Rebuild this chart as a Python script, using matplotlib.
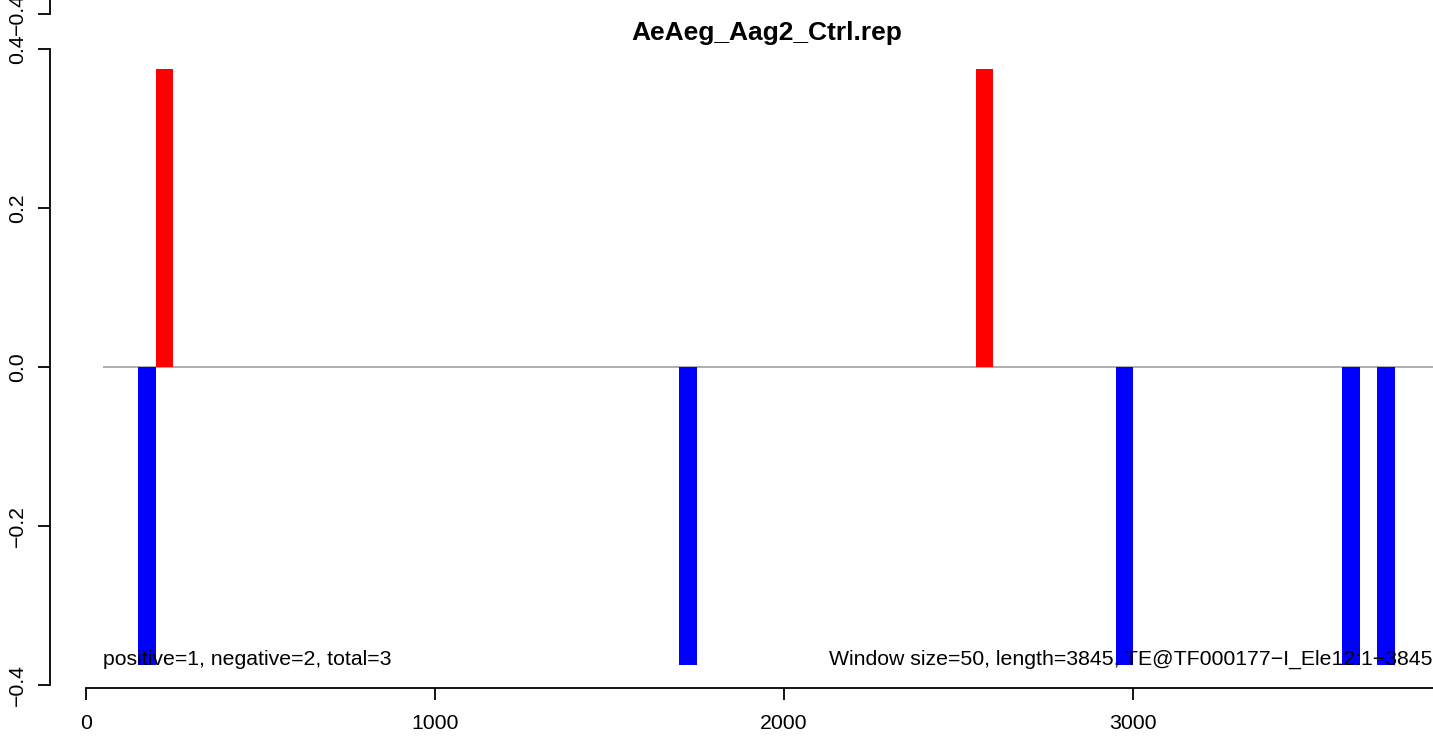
import matplotlib
matplotlib.use("Agg")

import matplotlib.pyplot as plt

# window starts (window size 50) and signal values
pos_starts = [200, 2550]
pos_values = [0.375, 0.375]
neg_starts = [150, 1700, 2950, 3600, 3700]
neg_values = [-0.375, -0.375, -0.375, -0.375, -0.375]

window = 50
seq_len = 3845
x_ticks = [0, 1000, 2000, 3000]
y_ticks = [-0.4, -0.2, 0.0, 0.2, 0.4]

title = "AeAeg_Aag2_Ctrl.rep"
left_note = "positive=1, negative=2, total=3"
right_note = "Window size=50, length=3845, TE@TF000177\u2212I_Ele12:1\u22123845"

plt.rcParams["font.family"] = ["Liberation Sans", "DejaVu Sans"]
plt.rcParams["axes.unicode_minus"] = True

W, H = 1433, 737
fig = plt.figure(figsize=(W / 100, H / 100), dpi=100)

# main panel, placed in pixels
left_px, right_px, bottom_px, top_px = 50, 1433, 688, 46
ax = fig.add_axes([left_px / W, (H - bottom_px) / H,
                   (right_px - left_px) / W, (bottom_px - top_px) / H])
ax.set_xlim(-103, 3859.6)
ax.set_ylim(-0.404, 0.4035)

ax.bar(pos_starts, pos_values, width=window, align="edge", color="red", zorder=2)
ax.bar(neg_starts, neg_values, width=window, align="edge", color="blue", zorder=2)
ax.hlines(0, window, 3900, color="#999999", linewidth=1.1, zorder=1)

ax.text(window, -0.375, left_note, ha="left", va="baseline", fontsize=15.3, zorder=3)
ax.text(3857, -0.375, right_note, ha="right", va="baseline", fontsize=15.3, zorder=3)

# title is centred on the full plot region, which runs past the right edge
fig.text(767 / W, (H - 33) / H, title, ha="center", va="center",
         fontsize=19, fontweight="bold")

for s in ["top", "right"]:
    ax.spines[s].set_visible(False)
ax.spines["left"].set_bounds(-0.4, 0.4)
ax.spines["bottom"].set_bounds(0, 3900)
for s in ["left", "bottom"]:
    ax.spines[s].set_linewidth(1.3)


def fmt(v):
    return f"{v:.1f}".replace("-", "\u2212")


ax.set_xticks(x_ticks)
ax.set_yticks(y_ticks)
ax.set_yticklabels([fmt(v) for v in y_ticks], rotation=90, va="center")
ax.tick_params(axis="both", length=8.6, width=1.3, labelsize=15.3)
ax.tick_params(axis="y", pad=8)
ax.tick_params(axis="x", pad=10)

# remnant of the panel above (its bottom axis tick peeking in)
ax2 = fig.add_axes([left_px / W, (H - 17) / H,
                    (right_px - left_px) / W, (bottom_px - top_px) / H])
ax2.set_xlim(-103, 3859.6)
ax2.set_ylim(-0.404, 0.4035)
ax2.patch.set_visible(False)
for s in ["top", "right", "bottom"]:
    ax2.spines[s].set_visible(False)
ax2.spines["left"].set_bounds(-0.4, 0.4)
ax2.spines["left"].set_linewidth(1.3)
ax2.set_xticks([])
ax2.set_yticks([-0.4])
ax2.set_yticklabels([fmt(-0.4)], rotation=90, va="center")
ax2.tick_params(axis="y", length=8.6, width=1.3, labelsize=15.3, pad=8)

fig.savefig("out.png", dpi=100)
plt.close(fig)
